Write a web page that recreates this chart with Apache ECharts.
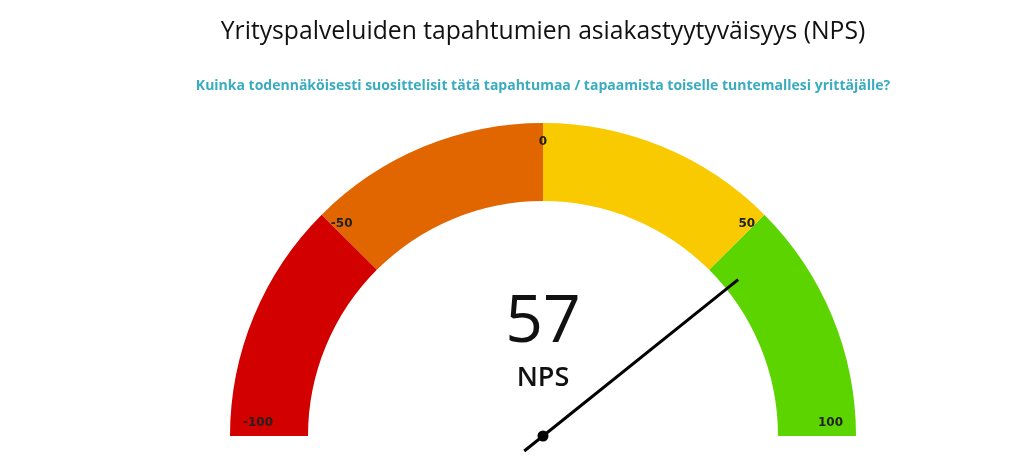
<!DOCTYPE html>
<html><head><meta charset="utf-8">
<script src="https://cdn.jsdelivr.net/npm/echarts@6/dist/echarts.min.js"></script>
<style>html,body{margin:0;padding:0;background:#fff}#c{width:1024px;height:461px}</style>
</head><body><div id="c"></div>
<script>
const titleText = 'Yrityspalveluiden tapahtumien asiakastyytyväisyys (NPS)';
const subtitleText = 'Kuinka todennäköisesti suosittelisit tätä tapahtumaa / tapaamista toiselle tuntemallesi yrittäjälle?';
const npsValue = 57;
const unitLabel = 'NPS';
const scaleMin = -100;
const scaleMax = 100;
const bandStops = [0.25, 0.5, 0.75, 1];
const bandColors = ['#d30000', '#e26600', '#f9ca00', '#5cd400'];

const chart = echarts.init(document.getElementById('c'));
chart.setOption({
  backgroundColor: '#fff',
  title: [
    { text: titleText, left: 538, textAlign: 'center', top: 14,
      textStyle: { fontFamily: 'Open Sans', fontWeight: 'normal', fontSize: 24.7, color: '#111' } },
    { text: subtitleText, left: 538, textAlign: 'center', top: 74,
      textStyle: { fontFamily: 'Open Sans', fontWeight: 'bold', fontSize: 14, color: '#3aacbf' } }
  ],
  series: [
    {
      type: 'gauge',
      center: [543, 436],
      radius: 313,
      startAngle: 180, endAngle: 0,
      min: scaleMin, max: scaleMax,
      splitNumber: 4,
      axisLine: { lineStyle: { width: 78, color: bandStops.map((s, i) => [s, bandColors[i]]) } },
      splitLine: { show: false, length: 0, distance: 0 },
      axisTick: { show: false },
      axisLabel: {
        distance: 13, color: '#222', fontSize: 12, fontWeight: 'bold', fontFamily: 'DejaVu Sans',
        verticalAlign: 'middle',
        formatter: v => Math.abs(v) === 100 ? '{e|' + v + '}' : '{n|' + v + '}',
        rich: {
          n: { fontSize: 12, fontWeight: 'bold', color: '#222', fontFamily: 'DejaVu Sans' },
          e: { fontSize: 12, fontWeight: 'bold', color: '#222', fontFamily: 'DejaVu Sans', padding: [0, 0, 26, 0] }
        }
      },
      pointer: { icon: 'rect', length: 274, width: 3, offsetCenter: [0, 24], itemStyle: { color: '#000' } },
      anchor: { show: true, showAbove: true, size: 11, itemStyle: { color: '#000' } },
      title: { offsetCenter: [0, -58], fontSize: 27, fontFamily: 'Open Sans', fontWeight: 600, color: '#111' },
      detail: { offsetCenter: [0, -113], fontSize: 66, fontFamily: 'Open Sans', fontWeight: 500, color: '#111',
        formatter: '{value}' },
      data: [{ value: npsValue, name: unitLabel }]
    }
  ]
});
</script></body></html>
